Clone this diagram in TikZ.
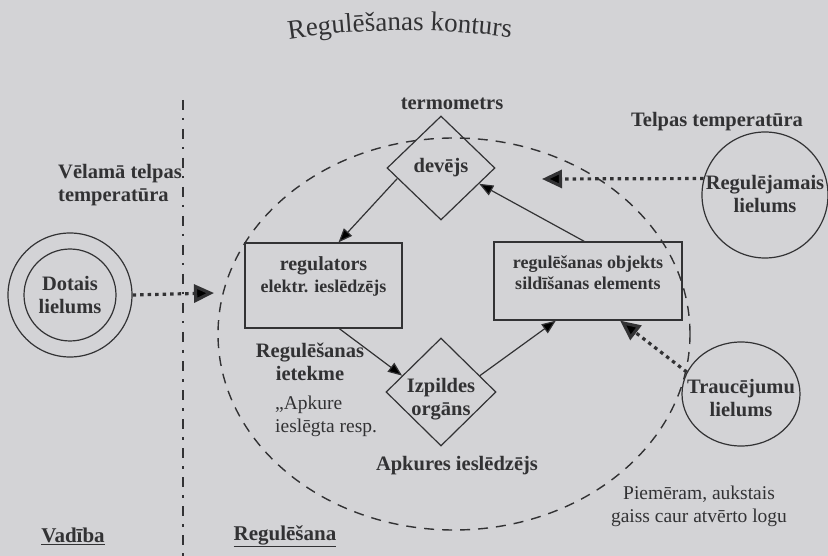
\documentclass[tikz,border=0pt]{standalone}
\usepackage{fontspec}
\setmainfont{Liberation Serif}
\usetikzlibrary{arrows.meta,shapes.geometric,calc,decorations.text}
\definecolor{paper}{RGB}{211,211,214}
\definecolor{ink}{RGB}{50,50,52}
\begin{document}
\begin{tikzpicture}[x=1pt,y=-1pt,
  lbl/.style={text=ink,font=\bfseries\fontsize{20.5}{23}\selectfont,align=center,inner sep=0pt},
  boxtxt/.style={text=ink,font=\bfseries\fontsize{20}{22}\selectfont,align=center,inner sep=0pt},
  note/.style={text=ink,font=\fontsize{19.5}{23}\selectfont,align=center,inner sep=0pt},
  box/.style={draw=ink,line width=1.3pt,rectangle,inner sep=0pt},
  dia/.style={draw=ink,line width=1.2pt,diamond,inner sep=0pt},
  ring/.style={draw=ink,line width=1.2pt,circle,inner sep=0pt},
  solidarrow/.style={draw=ink,line width=1.2pt,-{Triangle[length=14pt,width=11pt]}},
  dotarrow/.style={draw=ink,line width=3.2pt,dash pattern=on 3.5pt off 4pt,-{Triangle[length=20pt,width=18pt]}},
  loopline/.style={draw=ink,line width=1.4pt,dash pattern=on 10pt off 8pt},
  sepline/.style={draw=ink,line width=2.8pt,dash pattern=on 10pt off 8pt on 2.5pt off 8.5pt}]
\fill[paper] (0,0) rectangle (828,556);
\useasboundingbox (0,0) rectangle (828,556);

% title along a gentle arc
\path[decorate,decoration={text along path,text color=ink,
  text={|\fontsize{27}{31}\selectfont|Regulēšanas konturs},text align=center}]
  (272,42) .. controls (360,27) and (440,27) .. (528,40);

% control loop
\draw[loopline] (454,334) ellipse [x radius=236, y radius=196];
% separator
\draw[sepline] (183,100) -- (183,556);

% nodes
\node[box,minimum width=157pt,minimum height=85pt] (reg) at (323.5,285.5) {};
\node[boxtxt] (regT) at (323.5,276) {regulators\\{\fontsize{18}{22}\selectfont elektr. ieslēdzējs}};
\node[box,minimum width=188pt,minimum height=78pt] (obj) at (588,281) {};
\node[boxtxt,font=\bfseries\fontsize{18}{21}\selectfont] (objT) at (588,272.5) {regulēšanas objekts\\sildīšanas elements};
\node[dia,minimum width=108pt,minimum height=104pt,lbl] (dev) at (441,168) {devējs};
\node[dia,minimum width=110pt,minimum height=108pt] (izp) at (441,392) {};
\node[lbl] (izpT) at (441,399.5) {Izpildes\\orgāns};

\node[ring,minimum size=124pt] (dotO) at (70,295) {};
\node[ring,minimum size=92pt,lbl] (dot) at (70,295) {Dotais\\lielums};
\node[ring,minimum size=126pt] (regc) at (765,195) {};
\node[lbl] (regcT) at (765,194) {Regulējamais\\lielums};
\node[draw=ink,line width=1.2pt,ellipse,inner sep=0pt,minimum width=118pt,minimum height=104pt] (trc) at (741,394) {};
\node[lbl] (trcT) at (741,398) {Traucējumu\\lielums};

% labels
\node[lbl] (termo) at (452,104) {termometrs};
\node[lbl] (telpT) at (717,122) {Telpas temperatūra};
\node[lbl,anchor=west,align=left] (velT) at (58,185) {Vēlamā telpas\\temperatūra};
\node[lbl] (rietT) at (310,361.5) {Regulēšanas\\ietekme};
\node[note,anchor=west,align=left] (apkT) at (275,416.5) {„Apkure\\ieslēgta resp.};
\node[lbl] (apkS) at (457,466) {Apkures ieslēdzējs};
\node[note] (piem) at (699,506.5) {Piemēram, aukstais\\gaiss caur atvērto logu};
\node[lbl,font=\bfseries\fontsize{21}{23}\selectfont] (vad) at (73,536) {\underline{Vadība}};
\node[lbl,font=\bfseries\fontsize{21}{23}\selectfont] (regl) at (285,536) {\underline{Regulēšana}};

% free ends of dotted arrows
\coordinate (dotEnd) at (214,293);
\coordinate (regcEnd) at (542,179);

% connectors
\draw[solidarrow] ($(dev.west)!0.2!(dev.south)$) -- ($(reg.north west)!0.595!(reg.north east)$);
\draw[solidarrow] ($(reg.south west)!0.6!(reg.south east)$) -- ($(izp.west)!0.3!(izp.north)$);
\draw[solidarrow] ($(izp.north)!0.7!(izp.east)$) -- ($(obj.south west)!0.33!(obj.south east)$);
\draw[solidarrow] ($(obj.north west)!0.48!(obj.north east)$) -- ($(dev.south)!0.7!(dev.east)$);

\draw[dotarrow] (dotO.east) -- (dotEnd);
\draw[dotarrow] (regc.165) -- (regcEnd);
\draw[dotarrow] (trc.158) -- ($(obj.south west)!0.67!(obj.south east)$);
\end{tikzpicture}
\end{document}
